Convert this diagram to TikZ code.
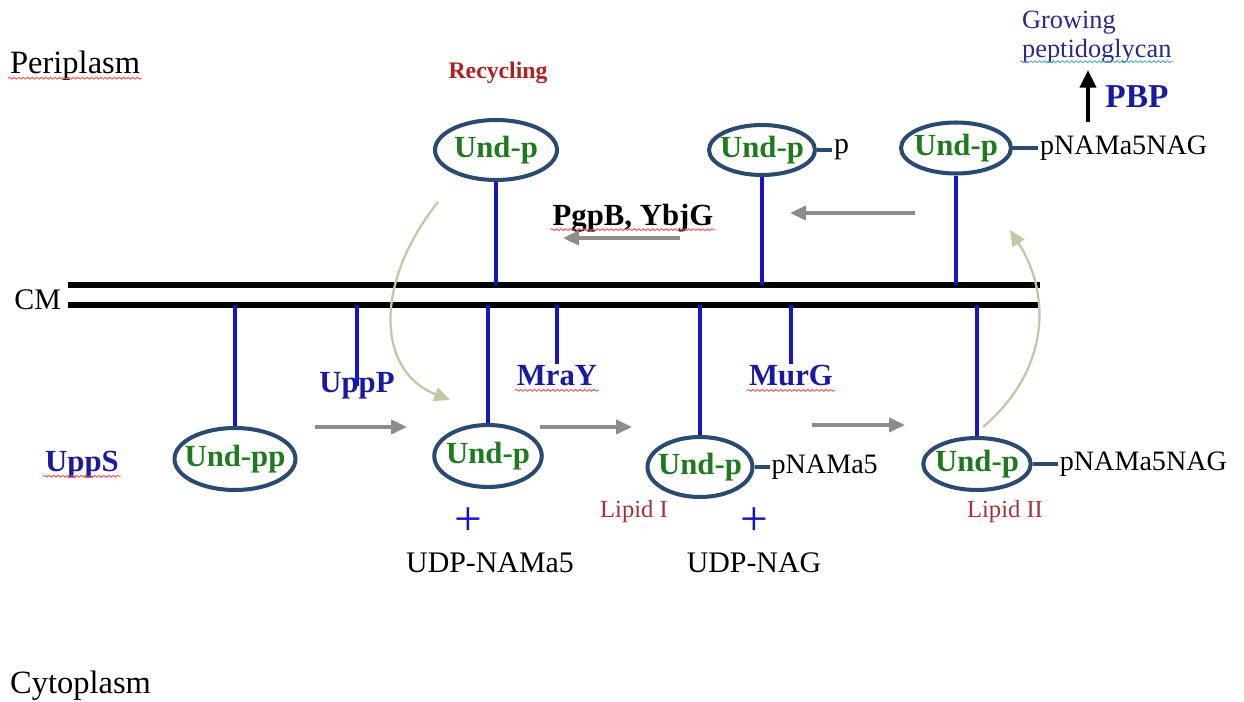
\documentclass[tikz,border=0pt]{standalone}
\usepackage{fontspec}
\setmainfont{Liberation Serif}
\usepackage{xcolor}
\usepackage{tikz}
\usetikzlibrary{positioning, arrows.meta, shapes.geometric, decorations.pathmorphing}

\definecolor{ringblue}{HTML}{2B4A6F}
\definecolor{undgreen}{HTML}{1F7A1F}
\definecolor{stemblue}{HTML}{1414C8}
\definecolor{enzblue}{HTML}{1A1AA0}
\definecolor{lipidred}{HTML}{A0343A}
\definecolor{recred}{HTML}{B02020}
\definecolor{flowgray}{HTML}{8C8C8C}
\definecolor{recycgreen}{HTML}{C4C6A6}
\definecolor{pepblue}{HTML}{2A2A8A}

\begin{document}
\begin{tikzpicture}[x=0.02cm, y=-0.02cm, inner sep=1pt, font=\fontsize{17}{20}\selectfont,
	undp/.style={ellipse, draw=ringblue, line width=2.3pt, minimum width=2.15cm, minimum height=1.15cm, inner sep=0pt, label={[undtxt]center:#1}},
	undtxt/.style={text=undgreen, font=\fontsize{17.5}{20}\selectfont\bfseries},
	enz/.style={text=enzblue, font=\fontsize{17.5}{20}\selectfont\bfseries},
	stem/.style={stemblue, line width=1.8pt},
	membrane/.style={black, line width=3.2pt},
	link/.style={ringblue, line width=1.8pt},
	flow/.style={flowgray, line width=1.8pt, -{Triangle[length=9pt, width=8pt]}},
	recycle/.style={recycgreen, line width=1.3pt, -{Triangle[length=9pt, width=8pt]}},
	lipid/.style={text=lipidred, font=\fontsize{14}{16}\selectfont},
	region/.style={anchor=west, font=\fontsize{18.5}{22}\selectfont},
	squiggle/.style={red!75, line width=0.45pt, decorate, decoration={snake, amplitude=0.55pt, segment length=2.6pt}}]
		\useasboundingbox[fill=white] (0,0) rectangle (1244,702);
		
		% compartments and membrane
		\node[region] (peri) at (8,66) {Periplasm};
		\node[region] (cyto) at (8,686) {Cytoplasm};
		\node[anchor=east] (cm) at (63,300) {CM};
		\coordinate (mtl) at (68,285);
		\coordinate (mtr) at (1040,285);
		\coordinate (mbl) at (68,305);
		\coordinate (mbr) at (1040,305);
		\draw[membrane] (mtl) -- (mtr);
		\draw[membrane] (mbl) -- (mbr);
		
		% periplasmic side
		\node[undp=Und-p, minimum width=2.44cm, minimum height=1.2cm] (recUnd) at (496,150) {};
		\node[undp=Und-p, minimum width=2.12cm, minimum height=1.0cm] (freeUnd) at (762,150) {};
		\node[undp=Und-p, minimum width=2.2cm, minimum height=1.02cm] (topUnd) at (956,148) {};
		\node[right=0.3cm of freeUnd] (phos) {p};
		\node[right=0.5cm of topUnd, font=\fontsize{16}{19}\selectfont] (pnTop) {pNAMa5NAG};
		\draw[link] (freeUnd) -- (phos);
		\draw[link] (topUnd) -- (pnTop);
		\draw[stem] (recUnd.south) -- (recUnd.south |- mtl);
		\draw[stem] (freeUnd.south) -- (freeUnd.south |- mtl);
		\draw[stem] (topUnd.south) -- (topUnd.south |- mtl);
		
		\node[text=recred, font=\fontsize{13.5}{16}\selectfont\bfseries] (recl) at (498,73) {Recycling};
		\node[font=\fontsize{17.5}{20}\selectfont\bfseries] (pgp) at (633,218) {PgpB, YbjG};
		\node[enz, font=\fontsize{19}{22}\selectfont\bfseries] (pbp) at (1137,97) {PBP};
		\node[anchor=west, text=pepblue, font=\fontsize{15}{18}\selectfont] (grow) at (1020,23) {Growing};
		\node[anchor=west, text=pepblue, font=\fontsize{15}{18}\selectfont] (pepg) at (1020,51) {peptidoglycan};
		
		% cytoplasmic side
		\node[undp=Und-pp, minimum width=2.42cm, minimum height=1.24cm] (undPP) at (235,459) {};
		\node[undp=Und-p, minimum height=1.24cm] (undP) at (488,456) {};
		\node[undp=Und-p, minimum width=2.1cm, minimum height=1.2cm] (lipI) at (700,467) {};
		\node[undp=Und-p, minimum height=1.04cm] (lipII) at (977,464) {};
		\node[right=0.3cm of lipI, font=\fontsize{16}{19}\selectfont] (pnI) {pNAMa5};
		\node[right=0.5cm of lipII, font=\fontsize{16}{19}\selectfont] (pnII) {pNAMa5NAG};
		\draw[link] (lipI) -- (pnI);
		\draw[link] (lipII) -- (pnII);
		\draw[stem] (undPP.north) -- (undPP.north |- mbl);
		\draw[stem] (undP.north) -- (undP.north |- mbl);
		\draw[stem] (lipI.north) -- (lipI.north |- mbl);
		\draw[stem] (lipII.north) -- (lipII.north |- mbl);
		
		\node[enz] (upps) at (82,465) {UppS};
		\node[enz] (uppp) at (357,386) {UppP};
		\node[enz] (mray) at (557,376) {MraY};
		\node[enz] (murg) at (791,376) {MurG};
		\draw[stem] (uppp.center) -- (uppp.center |- mbl);
		\draw[stem] (mray.north) -- (mray.north |- mbl);
		\draw[stem] (murg.north) -- (murg.north |- mbl);
		
		\node[lipid] (lipIlab) at (634,512) {Lipid I};
		\node[lipid] (lipIIlab) at (1005,512) {Lipid II};
		\node[text=stemblue, font=\fontsize{28}{30}\selectfont] (plusA) at (468,522) {+};
		\node[text=stemblue, font=\fontsize{28}{30}\selectfont] (plusB) at (754,522) {+};
		\node (udpnam) at (490,563) {UDP-NAMa5};
		\node (udpnag) at (754,563) {UDP-NAG};
		
		% reaction arrows
		\coordinate (fa1) at (315,427);
		\coordinate (fa2) at (407,427);
		\coordinate (fb1) at (540,427);
		\coordinate (fb2) at (632,427);
		\coordinate (fc1) at (812,425);
		\coordinate (fc2) at (905,425);
		\coordinate (fd1) at (915,213);
		\coordinate (fd2) at (790,213);
		\coordinate (fe1) at (680,238);
		\coordinate (fe2) at (563,238);
		\draw[flow] (fa1) -- (fa2);
		\draw[flow] (fb1) -- (fb2);
		\draw[flow] (fc1) -- (fc2);
		\draw[flow] (fd1) -- (fd2);
		\draw[flow] (fe1) -- (fe2);
		
		\coordinate (rc1) at (438,202);
		\coordinate (rc2) at (450,400);
		\coordinate (rc3) at (983,427);
		\coordinate (rc4) at (1010,230);
		\draw[recycle] (rc1) .. controls (372,285) and (378,372) .. (rc2);
		\draw[recycle] (rc3) .. controls (1052,368) and (1050,292) .. (rc4);
		
		\coordinate (pbpfoot) at (1088,122);
		\coordinate (pbptip) at (1088,70);
		\draw[black, line width=2.6pt, -{Triangle[length=10pt, width=9pt]}] (pbpfoot) -- (pbptip);
		
		% spelling marks
		\draw[squiggle] ([yshift=-2.5pt]peri.base west) -- ([yshift=-2.5pt]peri.base east);
		\draw[squiggle] ([yshift=-2.5pt]upps.base west) -- ([yshift=-2.5pt]upps.base east);
		\draw[squiggle] ([yshift=-2.5pt]mray.base west) -- ([yshift=-2.5pt]mray.base east);
		\draw[squiggle] ([yshift=-2.5pt]murg.base west) -- ([yshift=-2.5pt]murg.base east);
		\draw[squiggle] ([yshift=-2.5pt]pgp.base west) -- ([yshift=-2.5pt]pgp.base east);
		\draw[squiggle, teal!70] ([yshift=-2.5pt]pepg.base west) -- ([yshift=-2.5pt]pepg.base east);
		\end{tikzpicture}
\end{document}
